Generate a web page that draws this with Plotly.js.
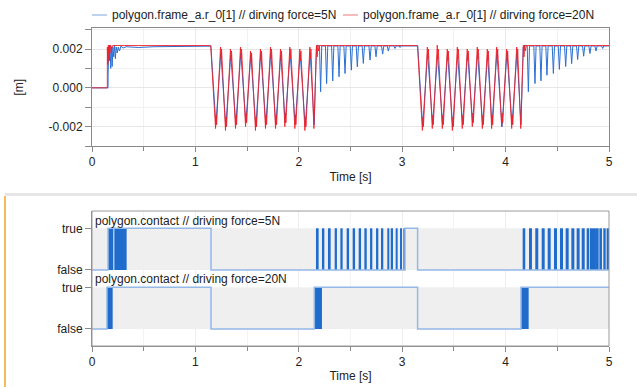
<!DOCTYPE html>
<html>
<head>
<meta charset="utf-8">
<script src="https://cdn.plot.ly/plotly-3.0.1.min.js"></script>
<style>html,body{margin:0;padding:0;background:#fff;}#chart{width:637px;height:387px;}</style>
</head>
<body>
<div id="chart"></div>
<script>
// ---------- Data: position of polygon.frame_a.r_0[1] ----------
const seriesNames = ['polygon.frame_a.r_0[1] // dirving force=5N', 'polygon.frame_a.r_0[1] // dirving force=20N'];

// driving force = 5N (blue)
const time5 = [
  0, 0.155, 0.1555, 0.162, 0.168, 0.174, 0.181, 0.188, 0.195, 0.202, 0.210, 0.218, 0.226, 0.234, 0.244, 0.254, 0.266, 0.280, 0.300, 0.330, 0.450, 0.600, 1.150,
  1.198, 1.246, 1.294, 1.342, 1.391, 1.439, 1.488, 1.536, 1.584, 1.632, 1.681, 1.729, 1.778, 1.826, 1.868, 1.916, 1.965, 2.013, 2.062, 2.110, 2.149, 2.170, 2.180,
  2.200, 2.211, 2.222,  2.258, 2.269, 2.280,  2.317, 2.328, 2.339,  2.378, 2.389, 2.400,  2.436, 2.447, 2.458,
  2.497, 2.508, 2.519,  2.555, 2.566, 2.577,  2.613, 2.624, 2.635,  2.678, 2.689, 2.700,  2.736, 2.747, 2.758,
  2.800, 2.811, 2.822,  2.855, 2.866, 2.877,  2.919, 2.930, 2.941,  2.970, 2.980, 2.990,  3.150,
  3.198, 3.246, 3.294, 3.342, 3.391, 3.439, 3.488, 3.536, 3.584, 3.632, 3.681, 3.729, 3.778, 3.826, 3.868, 3.916, 3.965, 4.013, 4.062, 4.110, 4.149, 4.170, 4.185,
  4.209, 4.220, 4.231,  4.273, 4.284, 4.295,  4.331, 4.342, 4.353,  4.389, 4.400, 4.411,  4.451, 4.462, 4.473,
  4.509, 4.520, 4.531,  4.570, 4.581, 4.592,  4.628, 4.639, 4.650,  4.686, 4.697, 4.708,  4.744, 4.755, 4.766,
  4.805, 4.816, 4.827,  4.863, 4.874, 4.885,  4.928, 4.939, 4.950,  5.000
];
const pos5 = [
  0, 0, 0.0006, 0.0021, 0.0014, 0.0022, 0.0010, 0.0021, 0.0011, 0.0021, 0.0016, 0.0022, 0.0015, 0.0021, 0.0018, 0.0021, 0.0019, 0.00215, 0.00205, 0.00212, 0.00208, 0.00212, 0.00215,
  -0.0019, 0.0018, -0.0020, 0.0017, -0.0019, 0.0018, -0.0018, 0.0017, -0.0020, 0.0018, -0.0019, 0.0018, -0.0019, 0.0017, -0.0018, 0.0018, -0.0019, 0.0018, -0.0020, 0.0018, -0.0019, 0.0021, 0.0022,
  0.00216, -0.0002, 0.00216,  0.00216, 0.00022, 0.00216,  0.00216, 0.00036, 0.00216,  0.00216, 0.00057, 0.00216,  0.00216, 0.00074, 0.00216,
  0.00216, 0.00091, 0.00216,  0.00216, 0.00108, 0.00216,  0.00216, 0.00126, 0.00216,  0.00216, 0.00143, 0.00216,  0.00216, 0.00160, 0.00216,
  0.00216, 0.00174, 0.00216,  0.00216, 0.00190, 0.00216,  0.00216, 0.00203, 0.00216,  0.00216, 0.00208, 0.00216,  0.00216,
  -0.0020, 0.0018, -0.0019, 0.0017, -0.0019, 0.0018, -0.0020, 0.0017, -0.0019, 0.0018, -0.0018, 0.0018, -0.0019, 0.0017, -0.0019, 0.0018, -0.0020, 0.0018, -0.0019, 0.0018, -0.0019, 0.0021, 0.0022,
  0.00216, -0.0002, 0.00216,  0.00216, 0.00022, 0.00216,  0.00216, 0.00036, 0.00216,  0.00216, 0.00065, 0.00216,  0.00216, 0.00074, 0.00216,
  0.00216, 0.00095, 0.00216,  0.00216, 0.00110, 0.00216,  0.00216, 0.00125, 0.00216,  0.00216, 0.00146, 0.00216,  0.00216, 0.00163, 0.00216,
  0.00216, 0.00177, 0.00216,  0.00216, 0.00190, 0.00216,  0.00216, 0.00203, 0.00216,  0.00216
];

// driving force = 20N (red)
const time20 = [
  0, 0.148, 0.1485, 0.153, 0.158, 0.163, 0.168, 0.174, 0.180, 0.190, 0.200, 1.148,
  1.195, 1.201, 1.205, 1.243, 1.249, 1.253,
  1.291, 1.297, 1.301, 1.339, 1.345, 1.349,
  1.388, 1.394, 1.398, 1.436, 1.442, 1.446,
  1.485, 1.491, 1.495, 1.533, 1.539, 1.543,
  1.581, 1.587, 1.591, 1.629, 1.635, 1.639,
  1.678, 1.684, 1.688, 1.726, 1.732, 1.736,
  1.775, 1.781, 1.785, 1.823, 1.829, 1.833,
  1.865, 1.871, 1.875, 1.913, 1.919, 1.923,
  1.962, 1.968, 1.972, 2.010, 2.016, 2.020,
  2.059, 2.065, 2.069, 2.107, 2.113, 2.117,
  2.146, 2.172, 2.178, 2.184, 2.190, 2.200, 3.148,
  3.195, 3.201, 3.205, 3.243, 3.249, 3.253,
  3.291, 3.297, 3.301, 3.339, 3.345, 3.349,
  3.388, 3.394, 3.398, 3.436, 3.442, 3.446,
  3.485, 3.491, 3.495, 3.533, 3.539, 3.543,
  3.581, 3.587, 3.591, 3.629, 3.635, 3.639,
  3.678, 3.684, 3.688, 3.726, 3.732, 3.736,
  3.775, 3.781, 3.785, 3.823, 3.829, 3.833,
  3.865, 3.871, 3.875, 3.913, 3.919, 3.923,
  3.962, 3.968, 3.972, 4.010, 4.016, 4.020,
  4.059, 4.065, 4.069, 4.107, 4.113, 4.117,
  4.146, 4.172, 4.178, 4.184, 4.190, 4.200, 5.000
];
const pos20 = [
  0, 0, 0.0021, 0.0012, 0.0022, 0.0014, 0.0022, 0.0018, 0.0022, 0.0020, 0.00218, 0.00218,
  -0.0021, -0.0014, -0.0019, 0.0021, 0.0015, 0.0020,
  -0.0022, -0.0015, -0.0020, 0.0020, 0.0014, 0.0019,
  -0.0021, -0.0014, -0.0019, 0.0021, 0.0015, 0.0020,
  -0.0020, -0.0013, -0.0018, 0.0019, 0.0013, 0.0018,
  -0.0022, -0.0015, -0.0020, 0.0020, 0.0014, 0.0019,
  -0.0021, -0.0014, -0.0019, 0.0021, 0.0015, 0.0020,
  -0.0021, -0.0014, -0.0019, 0.0020, 0.0014, 0.0019,
  -0.0020, -0.0013, -0.0018, 0.0021, 0.0015, 0.0020,
  -0.0021, -0.0014, -0.0019, 0.0020, 0.0014, 0.0019,
  -0.0022, -0.0015, -0.0020, 0.0021, 0.0015, 0.0020,
  -0.0021, 0.0022, 0.0016, 0.0022, 0.0019, 0.00218, 0.00218,
  -0.0022, -0.0015, -0.0020, 0.0021, 0.0015, 0.0020,
  -0.0021, -0.0014, -0.0019, 0.0022, 0.0015, 0.0020,
  -0.0021, -0.0014, -0.0019, 0.0020, 0.0014, 0.0019,
  -0.0022, -0.0015, -0.0020, 0.0021, 0.0015, 0.0020,
  -0.0021, -0.0014, -0.0019, 0.0020, 0.0014, 0.0019,
  -0.0020, -0.0013, -0.0018, 0.0021, 0.0015, 0.0020,
  -0.0021, -0.0014, -0.0019, 0.0020, 0.0014, 0.0019,
  -0.0021, -0.0014, -0.0019, 0.0021, 0.0015, 0.0020,
  -0.0020, -0.0013, -0.0018, 0.0020, 0.0014, 0.0019,
  -0.0021, -0.0014, -0.0019, 0.0021, 0.0015, 0.0020,
  -0.0021, 0.0022, 0.0016, 0.0022, 0.0019, 0.00218, 0.00218
];

// ---------- Data: polygon.contact (boolean) ----------
const contactLabels = ['polygon.contact // driving force=5N', 'polygon.contact // driving force=20N'];
const boolTickText = ['false', 'true'];
// step signal (0 = false, 1 = true)
const contactTime5 = [0, 0.155, 1.151, 3.027, 3.149, 5.0];
const contactVal5  = [0, 1, 0, 1, 0, 0];
const contactTime20 = [0, 0.145, 1.151, 2.150, 3.149, 4.149, 5.0];
const contactVal20  = [0, 1, 0, 1, 0, 1, 1];
// chattering bursts (rapid true/false switching), start and end times
const burstStart5 = [0.155, 0.216,
  2.166, 2.224, 2.282, 2.347, 2.402, 2.463, 2.521, 2.579, 2.634, 2.689, 2.747, 2.795, 2.856, 2.889, 2.937, 2.979, 3.011,
  4.165, 4.226, 4.287, 4.349, 4.407, 4.468, 4.526, 4.581, 4.636, 4.687, 4.736, 4.784, 4.816, 4.865, 4.907, 4.945, 4.977];
const burstEnd5 = [0.206, 0.335,
  2.192, 2.247, 2.308, 2.369, 2.424, 2.486, 2.544, 2.602, 2.657, 2.711, 2.769, 2.817, 2.875, 2.911, 2.956, 2.998, 3.027,
  4.190, 4.255, 4.316, 4.378, 4.436, 4.497, 4.555, 4.610, 4.665, 4.716, 4.765, 4.809, 4.865, 4.900, 4.932, 4.968, 5.000];
const burstStart20 = [0.145, 2.150, 4.149];
const burstEnd20   = [0.200, 2.224, 4.223];

// ---------- Build ----------
const BLUE = '#2a6fd4', RED = 'rgba(242,32,40,0.9)';
const STEP = '#94b8e8', BURST = '#1f6ccc';
function centers(s, e) { return s.map((v, i) => (v + e[i]) / 2); }
function widths(s, e) { return s.map((v, i) => e[i] - v); }
function ones(s) { return s.map(() => 1); }

const traces = [
  {x: time5, y: pos5, type: 'scatter', mode: 'lines', name: seriesNames[0], line: {color: BLUE, width: 1}, xaxis: 'x', yaxis: 'y'},
  {x: time20, y: pos20, type: 'scatter', mode: 'lines', name: seriesNames[1], line: {color: RED, width: 1}, xaxis: 'x', yaxis: 'y'},
  {x: centers(burstStart5, burstEnd5), y: ones(burstStart5), base: 0, width: widths(burstStart5, burstEnd5), type: 'bar',
   marker: {color: BURST, line: {width: 0}}, xaxis: 'x2', yaxis: 'y3', hoverinfo: 'skip'},
  {x: contactTime5, y: contactVal5, type: 'scatter', mode: 'lines', name: contactLabels[0], line: {shape: 'hv', color: STEP, width: 1.5}, xaxis: 'x2', yaxis: 'y3'},
  {x: centers(burstStart20, burstEnd20), y: ones(burstStart20), base: 0, width: widths(burstStart20, burstEnd20), type: 'bar',
   marker: {color: BURST, line: {width: 0}}, xaxis: 'x2', yaxis: 'y4', hoverinfo: 'skip'},
  {x: contactTime20, y: contactVal20, type: 'scatter', mode: 'lines', name: contactLabels[1], line: {shape: 'hv', color: STEP, width: 1.5}, xaxis: 'x2', yaxis: 'y4'}
];

const H = 387, L = 92, PW = 517;
const py = p => 1 - p / H;   // pixel row -> paper y
const px = p => (p - L) / PW; // pixel col -> paper x

const axisCommon = {
  showline: true, linecolor: '#8a8a8a', linewidth: 1,
  ticks: 'outside', ticklen: 5, tickcolor: '#8a8a8a',
  tickfont: {size: 12, color: '#222'}, zeroline: false
};

const layout = {
  width: 637, height: 387,
  margin: {l: L, r: 28, t: 0, b: 0, pad: 0},
  paper_bgcolor: '#fff', plot_bgcolor: '#fff',
  font: {family: 'Liberation Sans, Arial, sans-serif', size: 12, color: '#222'},
  showlegend: false,
  barmode: 'overlay',
  xaxis: Object.assign({}, axisCommon, {
    domain: [0, 1], anchor: 'y', range: [0, 5], tick0: 0, dtick: 1, mirror: true,
    showgrid: true, gridcolor: '#ebebeb',
    minor: {dtick: 0.5, ticks: 'outside', ticklen: 4, tickcolor: '#8a8a8a', showgrid: true, gridcolor: '#f1f1f1'},
    title: {text: 'Time [s]', standoff: 4, font: {size: 12, color: '#222'}}
  }),
  yaxis: Object.assign({}, axisCommon, {
    domain: [py(146), py(28.3)], anchor: 'x', range: [-0.003, 0.00307], mirror: true,
    tickmode: 'array', tickvals: [-0.002, 0, 0.002], ticktext: ['-0.002', '0.000', '0.002'], ticklen: 6,
    showgrid: true, gridcolor: '#e6e6e6',
    minor: {tickmode: 'array', tickvals: [-0.003, -0.001, 0.001, 0.003], ticks: 'outside', ticklen: 6, tickcolor: '#8a8a8a', showgrid: true, gridcolor: '#f1f1f1'},
    title: {text: '[m]', standoff: 22, font: {size: 12, color: '#222'}}
  }),
  xaxis2: Object.assign({}, axisCommon, {
    domain: [0, 1], anchor: 'y4', range: [0, 5], tick0: 0, dtick: 1,
    showgrid: true, gridcolor: '#eeeeee',
    minor: {dtick: 0.5, ticks: 'outside', ticklen: 4, tickcolor: '#8a8a8a', showgrid: true, gridcolor: '#f3f3f3'},
    title: {text: 'Time [s]', standoff: 3, font: {size: 12, color: '#222'}}
  }),
  yaxis3: Object.assign({}, axisCommon, {
    domain: [py(279), py(211)], anchor: 'x2', range: [-0.216, 1.415],
    tickmode: 'array', tickvals: [0, 1], ticktext: boolTickText, ticklen: 6, showgrid: false
  }),
  yaxis4: Object.assign({}, axisCommon, {
    domain: [py(346), py(279)], anchor: 'x2', range: [-0.408, 1.199],
    tickmode: 'array', tickvals: [0, 1], ticktext: boolTickText, ticklen: 6, showgrid: false
  }),
  shapes: [
    {type: 'rect', xref: 'x2', yref: 'y3', x0: 0, x1: 5, y0: 0, y1: 1, fillcolor: '#efefef', line: {width: 0}, layer: 'between'},
    {type: 'rect', xref: 'x2', yref: 'y4', x0: 0, x1: 5, y0: 0, y1: 1, fillcolor: '#efefef', line: {width: 0}, layer: 'between'},
    {type: 'rect', xref: 'paper', yref: 'paper', x0: 0, x1: 1, y0: py(346), y1: py(211), line: {color: '#9a9a9a', width: 1}, fillcolor: 'rgba(0,0,0,0)', layer: 'above'},
    {type: 'rect', xref: 'paper', yref: 'paper', x0: px(5), x1: px(637), y0: py(196), y1: py(193), fillcolor: '#e6e6e6', line: {width: 0}},
    {type: 'line', xref: 'paper', yref: 'paper', x0: px(5), x1: px(5), y0: 0, y1: py(196), line: {color: '#f5a623', width: 1.5}},
    // legend keys
    {type: 'line', xref: 'paper', yref: 'paper', x0: px(92), x1: px(107), y0: py(15), y1: py(15), line: {color: '#a8c5ee', width: 1.5}},
    {type: 'line', xref: 'paper', yref: 'paper', x0: px(343), x1: px(358), y0: py(15), y1: py(15), line: {color: '#f4a5a8', width: 1.5}}
  ],
  annotations: [
    {text: seriesNames[0], xref: 'paper', yref: 'paper', x: px(110), y: py(15), xanchor: 'left', yanchor: 'middle', showarrow: false, font: {size: 12, color: '#222'}},
    {text: seriesNames[1], xref: 'paper', yref: 'paper', x: px(361), y: py(15), xanchor: 'left', yanchor: 'middle', showarrow: false, font: {size: 12, color: '#222'}},
    {text: contactLabels[0], xref: 'paper', yref: 'paper', x: 0, y: py(220.7), xanchor: 'left', yanchor: 'middle', xshift: 1, showarrow: false, font: {size: 12, color: '#222'}},
    {text: contactLabels[1], xref: 'paper', yref: 'paper', x: 0, y: py(279.3), xanchor: 'left', yanchor: 'middle', xshift: 1, showarrow: false, font: {size: 12, color: '#222'}}
  ]
};

Plotly.newPlot('chart', traces, layout, {staticPlot: true, displayModeBar: false});
</script>
</body>
</html>
